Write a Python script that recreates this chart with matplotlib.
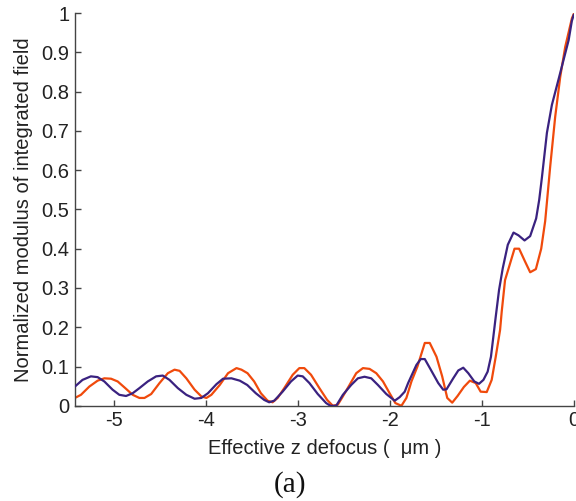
import matplotlib
matplotlib.use("Agg")
import matplotlib.pyplot as plt

# Integrated field modulus vs effective defocus, two configurations
z_blue = [-5.42, -5.337, -5.246, -5.173, -5.10, -5.010, -4.937, -4.864, -4.792, -4.719,
          -4.628, -4.537, -4.465, -4.392, -4.301, -4.209, -4.119, -4.046, -3.974, -3.882,
          -3.810, -3.719, -3.628, -3.547, -3.454, -3.363, -3.309, -3.254, -3.163, -3.072,
          -2.999, -2.944, -2.872, -2.781, -2.690, -2.643, -2.581, -2.508, -2.418, -2.345,
          -2.273, -2.200, -2.127, -2.036, -1.945, -1.891, -1.836, -1.799, -1.709, -1.662,
          -1.618, -1.553, -1.472, -1.418, -1.382, -1.309, -1.254, -1.200, -1.145, -1.080,
          -1.029, -0.981, -0.935, -0.899, -0.847, -0.811, -0.771, -0.716, -0.654, -0.600,
          -0.534, -0.473, -0.408, -0.375, -0.346, -0.291, -0.237, -0.157, -0.055, -0.02, 0.0]
field_blue = [0.049, 0.066, 0.075, 0.073, 0.062, 0.041, 0.028, 0.025, 0.032, 0.045,
              0.062, 0.075, 0.077, 0.066, 0.045, 0.028, 0.018, 0.020, 0.032, 0.055,
              0.069, 0.070, 0.064, 0.053, 0.032, 0.015, 0.009, 0.013, 0.036, 0.062,
              0.077, 0.075, 0.058, 0.030, 0.007, 0.0, 0.0, 0.028, 0.053, 0.070,
              0.074, 0.070, 0.053, 0.030, 0.013, 0.022, 0.036, 0.058, 0.104, 0.119,
              0.119, 0.092, 0.058, 0.041, 0.042, 0.070, 0.090, 0.097, 0.083, 0.062,
              0.056, 0.066, 0.087, 0.125, 0.227, 0.295, 0.350, 0.410, 0.441, 0.434,
              0.421, 0.432, 0.477, 0.524, 0.580, 0.695, 0.766, 0.838, 0.931, 0.980, 0.995]

z_orange = [-5.42, -5.354, -5.263, -5.173, -5.10, -5.027, -4.955, -4.882, -4.792, -4.719,
            -4.664, -4.591, -4.500, -4.410, -4.337, -4.282, -4.209, -4.119, -4.046, -3.991,
            -3.937, -3.846, -3.756, -3.664, -3.610, -3.544, -3.472, -3.399, -3.326, -3.272,
            -3.217, -3.145, -3.053, -2.981, -2.927, -2.854, -2.763, -2.679, -2.617, -2.563,
            -2.508, -2.436, -2.363, -2.290, -2.218, -2.145, -2.072, -2.000, -1.938, -1.872,
            -1.818, -1.763, -1.698, -1.618, -1.564, -1.491, -1.429, -1.374, -1.320, -1.262,
            -1.193, -1.128, -1.065, -1.011, -0.945, -0.891, -0.847, -0.800, -0.782, -0.746,
            -0.702, -0.643, -0.593, -0.528, -0.473, -0.411, -0.353, -0.310, -0.255, -0.201,
            -0.146, -0.092, -0.019, 0.0]
field_orange = [0.020, 0.028, 0.049, 0.064, 0.070, 0.069, 0.062, 0.047, 0.028, 0.020,
                0.020, 0.030, 0.058, 0.083, 0.092, 0.089, 0.070, 0.041, 0.024, 0.020,
                0.028, 0.053, 0.083, 0.096, 0.092, 0.083, 0.062, 0.032, 0.013, 0.009,
                0.020, 0.045, 0.079, 0.096, 0.096, 0.079, 0.045, 0.015, 0.0, 0.003,
                0.024, 0.053, 0.083, 0.096, 0.094, 0.083, 0.062, 0.032, 0.007, 0.0,
                0.020, 0.062, 0.100, 0.160, 0.160, 0.125, 0.075, 0.020, 0.008, 0.025,
                0.048, 0.064, 0.058, 0.036, 0.035, 0.066, 0.125, 0.193, 0.240, 0.320,
                0.354, 0.400, 0.400, 0.367, 0.340, 0.348, 0.400, 0.470, 0.610, 0.736,
                0.838, 0.914, 0.987, 0.997]

y_ticks = [0, 0.1, 0.2, 0.3, 0.4, 0.5, 0.6, 0.7, 0.8, 0.9, 1]
y_tick_labels = ["0", "0.1", "0.2", "0.3", "0.4", "0.5", "0.6", "0.7", "0.8", "0.9", "1"]
x_ticks = [-5, -4, -3, -2, -1, 0]
x_tick_labels = ["-5", "-4", "-3", "-2", "-1", "0"]

plt.rcParams["font.family"] = ["Liberation Sans", "DejaVu Sans"]

fig = plt.figure(figsize=(5.76, 5.01), dpi=100)
ax = fig.add_axes([0.130, 0.190, 0.866, 0.784])

ax.plot(z_blue, field_blue, color="#3a2280", lw=1.6, solid_joinstyle="round", zorder=3)
ax.plot(z_orange, field_orange, color="#f04a0c", lw=1.6, solid_joinstyle="round", zorder=2)

ax.set_xlim(-5.42, 0)
ax.set_ylim(0, 1)
ax.set_xticks(x_ticks)
ax.set_xticklabels(x_tick_labels)
ax.set_yticks(y_ticks)
ax.set_yticklabels(y_tick_labels)

for side in ("top", "right"):
    ax.spines[side].set_visible(False)
for side in ("left", "bottom"):
    ax.spines[side].set_color("#444444")
    ax.spines[side].set_linewidth(1.0)

ax.tick_params(direction="in", length=4, width=1, colors="#444444",
               labelcolor="#222222", labelsize=14.5, pad=4)

ax.set_xlabel("Effective z defocus (  \u03bcm )", fontsize=14.5, color="#222222", labelpad=6)
ax.set_ylabel("Normalized modulus of integrated field", fontsize=14.5, color="#222222", labelpad=6)

fig.text(0.503, 0.033, "(a)", fontsize=21, family=["Liberation Serif", "DejaVu Serif"],
         ha="center", va="center", color="#111111")

fig.savefig("out.png", dpi=100)
